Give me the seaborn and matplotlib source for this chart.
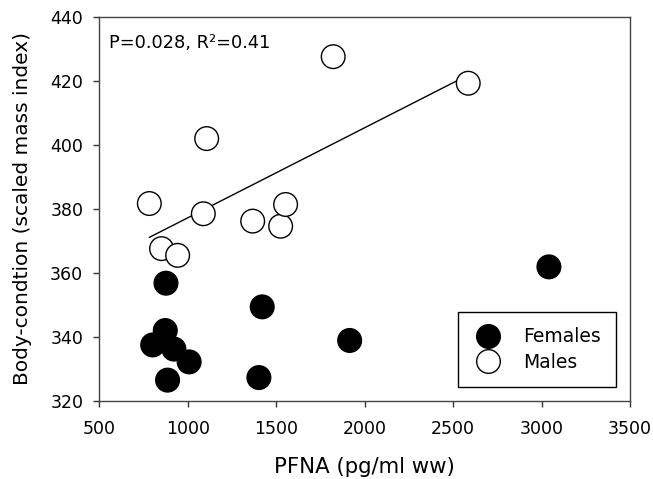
import numpy as np
import pandas as pd
import seaborn as sns
import matplotlib.pyplot as plt

# Values
female_pfna = [802, 873, 877, 886, 922, 1008, 1402, 1421, 1915, 3041]
female_bc = [337.5, 342.0, 356.8, 326.5, 336.2, 332.2, 327.3, 349.4, 338.9, 361.9]
male_pfna = [783, 852, 943, 1088, 1107, 1367, 1525, 1553, 1822, 2585]
male_bc = [381.7, 367.6, 365.5, 378.5, 402.0, 376.2, 374.6, 381.4, 427.6, 419.3]
stats_label = "P=0.028, R²=0.41"

data = pd.DataFrame({
    "pfna": female_pfna + male_pfna,
    "bc": female_bc + male_bc,
    "sex": ["Females"] * len(female_pfna) + ["Males"] * len(male_pfna),
})

sns.set_style("ticks")
plt.rcParams["font.family"] = ["DejaVu Sans"]
plt.rcParams.update({"text.color": "black", "axes.labelcolor": "black",
                     "xtick.color": "black", "ytick.color": "black"})

fig = plt.figure(figsize=(6.53, 4.79), dpi=100)
ax = fig.add_axes([0.152, 0.163, 0.813, 0.8015])

# regression line for males only, drawn under the markers
sns.regplot(data=data[data.sex == "Males"], x="pfna", y="bc", ci=None,
            scatter=False, color="black", line_kws={"lw": 1, "zorder": 1}, ax=ax)

sns.scatterplot(data=data, x="pfna", y="bc", hue="sex", style="sex",
                palette={"Females": "black", "Males": "white"},
                markers={"Females": "o", "Males": "o"},
                s=290, edgecolor="black", linewidth=1, zorder=3, ax=ax)

ax.set_xlim(500, 3500)
ax.set_ylim(320, 440)
ax.set_xticks(np.arange(500, 3501, 500))
ax.set_yticks(np.arange(320, 441, 20))
ax.tick_params(axis="both", labelsize=12.5, length=4.5, width=1, color="#333333",
               labelcolor="black", direction="out", top=False, right=False)
ax.tick_params(axis="x", pad=9)
ax.tick_params(axis="y", pad=7)
for sp in ax.spines.values():
    sp.set_visible(True)
    sp.set_linewidth(1)
    sp.set_color("#444444")

ax.set_xlabel("PFNA (pg/ml ww)", fontsize=15.3, labelpad=14)
ax.set_ylabel("Body-condtion (scaled mass index)", fontsize=14.5, labelpad=13)

ax.text(0.018, 0.955, stats_label, transform=ax.transAxes, fontsize=12.8,
        va="top", ha="left")

leg = ax.legend(loc="lower right", fontsize=13.5, frameon=True, fancybox=False,
                edgecolor="black", framealpha=1, borderaxespad=0.75,
                handlelength=1.6, handletextpad=1.1, labelspacing=0.35,
                borderpad=0.8, markerscale=1.0)
leg.get_frame().set_linewidth(1)

fig.savefig("out.png", dpi=100)
